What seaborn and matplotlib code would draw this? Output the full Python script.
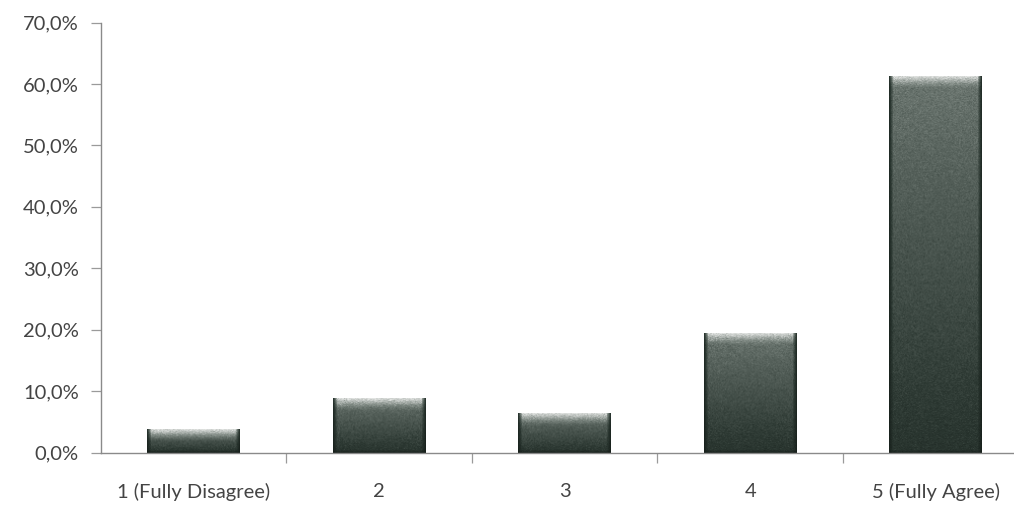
import numpy as np
import pandas as pd
import matplotlib
matplotlib.use("Agg")
import matplotlib.pyplot as plt
from matplotlib.ticker import FuncFormatter, FixedLocator
from matplotlib.colors import LinearSegmentedColormap
import seaborn as sns

# Survey response distribution (share of respondents, %)
categories = ["1 (Fully Disagree)", "2", "3", "4", "5 (Fully Agree)"]
shares = [3.8, 8.8, 6.4, 19.5, 61.3]
y_ticks = [0, 10, 20, 30, 40, 50, 60, 70]

df = pd.DataFrame({"answer": categories, "share": shares})

sns.set_theme(style="white")
plt.rcParams["font.family"] = ["Lato", "DejaVu Sans"]

fig = plt.figure(figsize=(10.14, 5.09), dpi=100)
ax = fig.add_axes([0.0996, 0.111, 0.9147, 0.8446])

sns.barplot(data=df, x="answer", y="share", color="#4b524d", width=0.5,
            saturation=1, ax=ax)

ax.set_ylim(0, 70)
ax.set_xlim(-0.5, len(categories) - 0.5)

# Bevelled grey-green fill: bright top edge, body shading from mid grey
# to near-black at the base, darker left/right rims, fine grain
cmap = LinearSegmentedColormap.from_list(
    "bevel", [(0.0, "#121a16"), (0.3, "#2c3832"), (0.55, "#57625c"),
              (0.72, "#7e8882"), (1.0, "#e4e6e4")])
grain = np.random.default_rng(7)
for patch in ax.patches:
    x0, y0 = patch.get_x(), patch.get_y()
    w, h = patch.get_width(), patch.get_height()
    px_h = ax.transData.transform((0, h))[1] - ax.transData.transform((0, 0))[1]
    ny, nx = max(int(px_h), 4), 92
    yy = np.linspace(0, 1, ny)[:, None]          # 0 = top, 1 = bottom
    xx = np.linspace(0, 1, nx)[None, :]
    depth_px = yy * px_h
    top = np.clip(1 - depth_px / 12.0, 0, 1) ** 1.3   # light band near top
    body = 0.64 - 0.38 * yy                      # darkens toward the base
    val = body + (0.97 - body) * top
    val = val + grain.normal(0, 0.035, size=(ny, nx))
    rim = np.minimum(xx, 1 - xx) * nx
    edge = np.clip(rim / 4.0, 0, 1)
    val = val * (0.3 + 0.7 * edge)
    bottom_rim = np.clip((1 - yy) * px_h / 3.0, 0, 1)
    val = val * (0.45 + 0.55 * bottom_rim)
    im = ax.imshow(np.clip(val, 0, 1), cmap=cmap, vmin=0, vmax=1,
                   aspect="auto", extent=(x0, x0 + w, y0, y0 + h),
                   origin="upper", interpolation="bilinear",
                   zorder=patch.get_zorder() + 0.1)
    im.set_clip_path(patch)

ax.set_xlim(-0.5, len(categories) - 0.5)
ax.set_ylim(0, 70)

ax.yaxis.set_major_locator(FixedLocator(y_ticks))
ax.yaxis.set_major_formatter(
    FuncFormatter(lambda v, _: f"{v:.1f}%".replace(".", ",")))

# category separators as minor ticks, labels centred without tick marks
ax.set_xticks(np.arange(len(categories)) + 0.5, minor=True)
ax.tick_params(axis="x", which="major", length=0, pad=22,
               labelsize=14.5, labelcolor="#444444")
ax.tick_params(axis="x", which="minor", length=7, width=0.9,
               color="#9a9a9a", direction="out", bottom=True)
ax.tick_params(axis="y", which="major", length=7, width=0.9,
               color="#9a9a9a", direction="out", left=True, pad=9,
               labelsize=14.5, labelcolor="#444444")

ax.set_xlabel("")
ax.set_ylabel("")
for side in ("top", "right"):
    ax.spines[side].set_visible(False)
for side in ("left", "bottom"):
    ax.spines[side].set_color("#8a8a8a")
    ax.spines[side].set_linewidth(1.0)
ax.grid(False)

fig.savefig("out.png", dpi=100, facecolor="white")
